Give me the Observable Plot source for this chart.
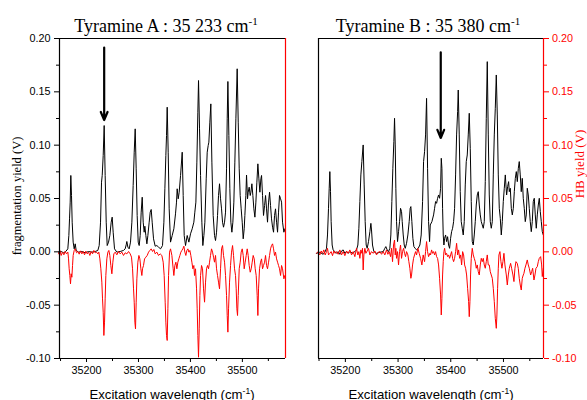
<!DOCTYPE html>
<html><head><meta charset="utf-8">
<script src="https://cdn.jsdelivr.net/npm/d3@7"></script>
<script src="https://cdn.jsdelivr.net/npm/@observablehq/plot@0.6"></script>
<style>
body{margin:0;background:#fff;}
#wrap{position:relative;width:587px;height:400px;overflow:hidden;background:#fff;}
#wrap svg.plot{position:absolute;top:0;}
#ov{position:absolute;left:0;top:0;pointer-events:none;}
</style></head><body><div id="wrap">
<svg id="ov" width="587" height="400">
<text x="166" y="31.7" text-anchor="middle" font-family="Liberation Serif, Times New Roman, serif" font-size="18">Tyramine A : 35 233 cm<tspan font-size="11" dy="-7">-1</tspan></text>
<text x="428" y="31.7" text-anchor="middle" font-family="Liberation Serif, Times New Roman, serif" font-size="18">Tyramine B : 35 380 cm<tspan font-size="11" dy="-7">-1</tspan></text>
<text x="172" y="398.5" text-anchor="middle" font-family="Liberation Sans, Arial, sans-serif" font-size="13.2">Excitation wavelength (cm<tspan font-size="8.5" dy="-5">-1</tspan><tspan dy="5">)</tspan></text>
<text x="431" y="398.5" text-anchor="middle" font-family="Liberation Sans, Arial, sans-serif" font-size="13.2">Excitation wavelength (cm<tspan font-size="8.5" dy="-5">-1</tspan><tspan dy="5">)</tspan></text>
<text transform="translate(20.5,196) rotate(-90)" text-anchor="middle" font-family="Liberation Serif, Times New Roman, serif" font-size="12.5">fragmentation yield (V)</text>
<text transform="translate(583.5,164) rotate(-90)" text-anchor="middle" font-family="Liberation Serif, Times New Roman, serif" font-size="13" fill="#f00">HB yield (V)</text>
</svg>
</div>
<script>
// ---- data (wavenumber cm-1, signal V) ----
const xMajor = [35200, 35300, 35400, 35500];
const xMinor = [35150, 35250, 35350, 35450, 35550];
const yMajor = [-0.10, -0.05, 0.00, 0.05, 0.10, 0.15, 0.20];
const yMinor = [-0.075, -0.025, 0.025, 0.075, 0.125, 0.175];
const xDomainA = [35148, 35583];
const xDomainB = [35149, 35576];
const yDomain = [-0.10, 0.20];
const arrowA = [[35234, 0.1915, 0.1235]];
const arrowB = [[35381, 0.1870, 0.1067]];

const aBlack = [[35146,-0.0003],[35151,0.0003],[35156,-0.0009],[35160,0.0003],[35164,0.0028],[35166,0.0153],[35167.3,0.0309],[35168.6,0.0466],[35169.8,0.0716],[35171.1,0.0528],[35172.4,0.0278],[35174.3,0.0091],[35176.3,0.0028],[35178.2,0.0075],[35180.1,0.0013],[35184.6,-0.0003],[35191,0.0003],[35197.4,-0.0009],[35203.9,0.0003],[35210.3,-0.0003],[35216.7,0.0003],[35221.8,0.0013],[35224.4,0.0059],[35227,0.0278],[35228.9,0.0653],[35230.2,0.0716],[35232.1,0.0903],[35234,0.1184],[35235.9,0.0716],[35237.9,0.0278],[35239.8,0.0059],[35242.4,0.0091],[35244.9,0.0153],[35247.5,0.0278],[35249.4,0.0325],[35251.3,0.0184],[35253.9,0.0028],[35258.4,-0.0003],[35264.8,0.0003],[35271.2,0.0013],[35274.4,0.0028],[35276.4,0.0066],[35277.6,0.0097],[35279.6,0.0044],[35282.1,0.0028],[35284.7,0.0091],[35287.3,0.0278],[35289.8,0.0622],[35291.8,0.0934],[35293.7,0.1153],[35295.6,0.0778],[35297.5,0.0341],[35299.5,0.0091],[35301.4,0.0059],[35303.3,0.0153],[35305.2,0.0372],[35307.2,0.0512],[35309.1,0.0278],[35311,0.0184],[35312.3,0.024],[35314.2,0.0153],[35316.2,0.0075],[35318.1,0.0153],[35320.6,0.0278],[35322.6,0.0372],[35324.5,0.0397],[35326.4,0.0278],[35329,0.0122],[35332.2,0.0053],[35335.4,0.0059],[35338.6,0.0044],[35342.5,0.0028],[35346.3,0.0059],[35348.9,0.0278],[35350.8,0.0591],[35352.7,0.0903],[35354,0.1091],[35355.3,0.1356],[35357.2,0.0934],[35359.1,0.0403],[35361.7,0.0091],[35364.9,0.0153],[35368.1,0.0216],[35371.3,0.0356],[35373.2,0.0466],[35374.5,0.0591],[35376.5,0.0497],[35378.4,0.0559],[35381,0.0716],[35384.2,0.0934],[35386.1,0.0528],[35388,0.0153],[35390.6,0.0059],[35393.8,0.0153],[35397,0.0091],[35400.2,0.0169],[35403.4,0.0216],[35406.6,0.0278],[35408.5,0.0372],[35410.5,0.0466],[35412.4,0.0841],[35414.3,0.1309],[35415.6,0.1606],[35417.5,0.1153],[35419.5,0.0716],[35422,0.0278],[35423.9,0.0059],[35425.9,0.0153],[35427.8,0.0278],[35430.4,0.0684],[35432.3,0.0934],[35434.2,0.0997],[35435.5,0.1028],[35437.4,0.1216],[35439.3,0.1387],[35441.3,0.0841],[35443.8,0.0341],[35446.4,0.0153],[35448.3,0.0106],[35450.3,0.0184],[35452.2,0.0341],[35454.1,0.0528],[35456,0.0638],[35458,0.0497],[35459.9,0.0403],[35461.8,0.0278],[35463.7,0.0231],[35465.7,0.0278],[35467.6,0.0372],[35469.5,0.0778],[35470.8,0.1247],[35472.1,0.1597],[35474,0.1091],[35475.9,0.0591],[35477.8,0.0278],[35479.8,0.0184],[35481.7,0.0278],[35483.6,0.0466],[35485.5,0.0841],[35487.5,0.1247],[35490,0.1716],[35492,0.1216],[35493.9,0.0778],[35495.8,0.0528],[35497.7,0.0403],[35499.7,0.0278],[35501.6,0.0122],[35503.5,0.0216],[35504.8,0.0341],[35506.7,0.0528],[35508,0.072],[35509.9,0.0497],[35511.2,0.0559],[35513.1,0.0606],[35515.1,0.0528],[35516.4,0.0559],[35518.3,0.0638],[35520.2,0.0528],[35522.1,0.0403],[35524.1,0.0325],[35526,0.0466],[35527.9,0.0653],[35529.8,0.0825],[35531.8,0.0684],[35533.7,0.0559],[35535.6,0.0684],[35536.9,0.0716],[35538.8,0.0528],[35540.7,0.0341],[35542.7,0.0434],[35544.6,0.0528],[35546.5,0.0403],[35548.4,0.0278],[35550.4,0.0466],[35552.3,0.0559],[35554.2,0.0434],[35556.1,0.0309],[35558.1,0.0231],[35560,0.0184],[35561.9,0.0341],[35563.8,0.0403],[35565.8,0.0278],[35567.7,0.0184],[35569.6,0.0372],[35571.5,0.0528],[35573.5,0.0497],[35575.4,0.0466],[35577.3,0.0278],[35579.9,0.0184],[35581.8,0.0216]];

const aRed = [[35146.1,-0.0019],[35148.7,0.0013],[35151.2,-0.0034],[35153.8,-0.0003],[35156.4,-0.0028],[35158.9,0.0003],[35161.5,-0.0019],[35164.1,-0.0003],[35165.4,-0.0066],[35166.6,-0.0159],[35167.9,-0.0222],[35169.2,-0.03],[35170.5,-0.0206],[35171.8,-0.0238],[35173.1,-0.0128],[35174.3,-0.0034],[35176.3,0.0013],[35178.2,0.0028],[35180.8,-0.0009],[35183.3,0.0003],[35185.9,-0.0022],[35188.5,0.0009],[35191,-0.0019],[35193.6,0.0003],[35196.2,-0.0028],[35198.7,0.0006],[35201.3,-0.0019],[35203.9,-0.0003],[35206.4,-0.0034],[35209,0.0003],[35211.6,-0.0019],[35214.1,0.0013],[35216.7,-0.0009],[35219.3,-0.0003],[35221.8,-0.0019],[35223.7,-0.0003],[35225.7,-0.0066],[35227.6,-0.0159],[35229.5,-0.0284],[35230.8,-0.0441],[35232.1,-0.0566],[35233.4,-0.0784],[35234.7,-0.0659],[35235.9,-0.0441],[35237.2,-0.0222],[35239.1,-0.0066],[35241.1,-0.0003],[35243,0.0013],[35244.9,-0.0034],[35246.8,-0.0128],[35248.8,-0.0206],[35250.7,-0.0097],[35252.6,-0.0019],[35255.2,-0.0003],[35258.4,-0.0028],[35261.6,0.0003],[35264.8,-0.0019],[35268,-0.0003],[35271.2,-0.0034],[35274.4,-0.0009],[35277.6,-0.0019],[35280.9,0.0003],[35284.1,-0.0019],[35286.6,-0.005],[35288.6,-0.0159],[35290.5,-0.0347],[35291.8,-0.0472],[35293.1,-0.0659],[35294.3,-0.0722],[35295.6,-0.0472],[35296.9,-0.0253],[35298.8,-0.0097],[35300.8,-0.0034],[35302.7,-0.0066],[35304.6,-0.0159],[35306.5,-0.0222],[35307.8,-0.0159],[35309.7,-0.0128],[35311.7,-0.0066],[35314.2,-0.005],[35316.8,-0.0034],[35319.4,-0.0003],[35321.9,0.0013],[35324.5,0.0028],[35327.1,0.0003],[35329.6,0.0022],[35332.2,-0.0019],[35335.4,-0.0003],[35338.6,-0.0034],[35341.8,-0.0019],[35345,-0.0034],[35347.6,-0.0097],[35349.5,-0.0222],[35351.4,-0.0472],[35352.7,-0.0659],[35354,-0.0784],[35355.3,-0.0831],[35356.6,-0.0534],[35357.9,-0.0222],[35359.8,-0.0003],[35361.7,0.0028],[35364.3,-0.0034],[35366.8,-0.0159],[35368.1,-0.0222],[35370,-0.0128],[35372,-0.0097],[35373.9,-0.0159],[35375.8,-0.0097],[35377.7,-0.0066],[35379.7,-0.0034],[35381.6,-0.0003],[35383.5,0.0013],[35385.4,0.0028],[35387.4,0.0053],[35389.3,-0.0003],[35391.2,-0.0034],[35393.1,0.0013],[35395.1,0.0028],[35397,-0.0003],[35398.9,0.0013],[35400.8,-0.0034],[35402.8,-0.0097],[35404.7,-0.0159],[35406.6,-0.0128],[35407.9,-0.0222],[35409.8,-0.0159],[35411.8,-0.0347],[35413,-0.0534],[35414.3,-0.0784],[35415.6,-0.0988],[35416.9,-0.0722],[35418.2,-0.0409],[35419.5,-0.0222],[35421.4,-0.0128],[35423.3,-0.0159],[35425.2,-0.0347],[35427.2,-0.0472],[35429.1,-0.0284],[35431,-0.0159],[35432.9,-0.0128],[35434.9,-0.0159],[35436.8,-0.0097],[35438.7,-0.0034],[35440.6,0.0028],[35442.6,-0.0003],[35444.5,-0.005],[35446.4,-0.0097],[35448.3,-0.0034],[35450.3,-0.0159],[35452.2,-0.0222],[35454.1,-0.0284],[35456,-0.0347],[35458,-0.0159],[35459.9,0.0028],[35461.8,0.0059],[35463.7,-0.0034],[35465.7,-0.0097],[35467.6,-0.0222],[35469.5,-0.0409],[35470.8,-0.0597],[35472.1,-0.0753],[35473.4,-0.0534],[35475.3,-0.0284],[35477.2,-0.0128],[35479.1,-0.0003],[35481.1,0.0059],[35483,-0.0034],[35484.9,-0.0159],[35486.8,-0.0222],[35488.1,-0.0347],[35489.4,-0.0534],[35490.7,-0.0597],[35492,-0.0409],[35493.9,-0.0159],[35495.8,-0.0097],[35497.7,-0.0003],[35499.7,0.0028],[35501.6,-0.0034],[35503.5,-0.0159],[35505.4,-0.0097],[35507.4,-0.0034],[35509.3,0.0028],[35511.2,-0.0034],[35513.1,-0.0128],[35515.1,-0.0191],[35517,-0.0159],[35518.9,-0.0097],[35520.8,-0.0034],[35522.8,-0.0066],[35524.7,-0.0159],[35526.6,-0.0222],[35528.5,-0.0409],[35529.8,-0.0597],[35531.1,-0.0347],[35533,-0.0159],[35535,-0.0097],[35536.9,-0.0066],[35538.8,-0.0159],[35540.7,-0.0128],[35542.7,-0.0097],[35544.6,-0.0034],[35546.5,-0.0128],[35548.4,-0.0159],[35550.4,-0.0097],[35552.3,-0.0034],[35554.2,0.0028],[35556.1,0.0059],[35558.1,0.0075],[35560,0.0028],[35561.9,-0.0034],[35563.8,-0.0003],[35565.8,-0.0066],[35567.7,-0.0097],[35569.6,-0.0128],[35571.5,-0.0159],[35573.5,-0.0222],[35575.4,-0.0128],[35577.3,-0.0159],[35579.9,-0.0253],[35581.8,-0.0222]];

const bBlack = [[35145.2,-0.0014],[35151.5,-0.0004],[35157.9,-0.0023],[35161.7,0.0002],[35164.2,0.0033],[35166.1,0.0158],[35168,0.0408],[35169.3,0.0596],[35170.5,0.0752],[35171.8,0.0564],[35173,0.0283],[35174.9,0.0064],[35176.8,0.0018],[35180,0.0002],[35183.2,-0.0014],[35186.3,0.0002],[35189.5,-0.0023],[35192.7,0.0008],[35195.8,0.0018],[35199,-0.0014],[35202.2,0.0002],[35205.3,-0.0014],[35208.5,0.0002],[35213.6,-0.0014],[35218,0.0002],[35221.1,0.0018],[35223.7,0.0064],[35225.6,0.0221],[35227.5,0.0471],[35229.4,0.0721],[35231.3,0.0846],[35233.8,0.1002],[35235.7,0.0627],[35237.6,0.0283],[35239.5,0.0064],[35241.4,0.0033],[35243.9,0.0096],[35246.5,0.0189],[35248.4,0.0267],[35249.6,0.0205],[35251.5,0.0064],[35254.1,0.0002],[35259.1,-0.0014],[35265.5,-0.0004],[35271.8,0.0002],[35274.9,0.0033],[35276.8,0.0049],[35279.4,0.0018],[35281.9,0.0002],[35284.4,0.0033],[35286.3,0.0158],[35288.2,0.0471],[35290.1,0.0783],[35292,0.1033],[35293.3,0.1252],[35294.6,0.1002],[35295.8,0.0596],[35297.1,0.0283],[35299,0.0096],[35300.9,0.0189],[35302.8,0.0283],[35304.7,0.0408],[35306.6,0.0377],[35307.9,0.0283],[35309.8,0.0158],[35311.7,0.0064],[35313.6,0.0033],[35316.1,0.008],[35318.6,0.0158],[35321.1,0.0283],[35323,0.0408],[35324.3,0.0424],[35326.2,0.0283],[35328.1,0.0127],[35330,0.0049],[35332.5,0.0033],[35335.1,0.0018],[35338.2,0.0033],[35341.4,0.0064],[35343.9,0.0158],[35346.5,0.0471],[35348.4,0.0846],[35350.3,0.0939],[35352.2,0.1096],[35354.1,0.1439],[35356,0.0783],[35357.9,0.0283],[35359.8,0.0096],[35361.1,0.0252],[35364.2,0.0283],[35367.4,0.0346],[35369.3,0.0408],[35371.2,0.0471],[35373.1,0.0455],[35375,0.0502],[35376.9,0.0533],[35378.8,0.0502],[35380.7,0.0596],[35382,0.0877],[35383.2,0.0783],[35384.5,0.0408],[35385.7,0.0158],[35387,0.0064],[35388.3,0.0127],[35390.2,0.0158],[35392.1,0.0096],[35394,0.0142],[35395.9,0.0064],[35397.8,0.0033],[35399.7,0.0127],[35401.6,0.0189],[35403.5,0.0221],[35405.4,0.0283],[35407.3,0.0408],[35409.2,0.0721],[35411.1,0.1096],[35413,0.1314],[35414.2,0.1517],[35416.1,0.1096],[35418,0.0564],[35419.9,0.0283],[35421.8,0.0221],[35423.7,0.0158],[35425.6,0.0283],[35427.5,0.0627],[35429.4,0.0846],[35431.3,0.0908],[35433.2,0.1096],[35435.1,0.1299],[35437,0.0971],[35438.9,0.0471],[35440.8,0.0096],[35442.7,0.0064],[35444.6,0.0158],[35446.5,0.0283],[35448.4,0.0439],[35450.3,0.0533],[35452.2,0.0564],[35454.1,0.0439],[35456,0.0346],[35457.9,0.0283],[35459.8,0.0252],[35461.7,0.0221],[35463.6,0.0283],[35465.5,0.0658],[35467.4,0.1252],[35469.3,0.1783],[35471.2,0.1096],[35473.1,0.0533],[35475,0.0283],[35476.9,0.0221],[35478.8,0.0283],[35480.7,0.0721],[35482.6,0.1096],[35484.5,0.1346],[35486.4,0.1658],[35488.3,0.1283],[35490.2,0.0721],[35492.1,0.0408],[35494,0.0314],[35495.9,0.0158],[35497.8,0.0283],[35499.7,0.0471],[35501.6,0.0596],[35503.5,0.0721],[35504.7,0.0627],[35506,0.0533],[35507.9,0.0611],[35509.8,0.0658],[35511.1,0.0564],[35513,0.0596],[35514.9,0.0408],[35516.8,0.0346],[35518.7,0.0408],[35520.6,0.0564],[35522.5,0.0689],[35524.4,0.0752],[35526.3,0.0658],[35528.2,0.0783],[35530,0.0846],[35531.9,0.0721],[35533.8,0.0564],[35535.7,0.0689],[35537.6,0.0502],[35539.5,0.0408],[35541.4,0.0283],[35543.3,0.0346],[35545.2,0.0596],[35547.1,0.0533],[35549,0.0408],[35550.9,0.0283],[35552.8,0.0189],[35554.7,0.0283],[35556.6,0.0471],[35558.5,0.0502],[35560.4,0.0346],[35562.3,0.0221],[35564.2,0.0346],[35566.1,0.0439],[35568,0.0502],[35569.9,0.0377],[35571.8,0.0283],[35573.7,0.0189],[35575.6,0.0158]];

const bRed = [[35145.2,-0.0014],[35148.4,0.0002],[35151.5,-0.0029],[35154.1,0.0008],[35156.6,-0.0014],[35159.1,0.0018],[35161.7,-0.0029],[35164.2,0.0002],[35166.1,0.0033],[35168,-0.0029],[35170.5,-0.0014],[35173,0.0002],[35175.6,-0.0036],[35178.1,0.0008],[35180.6,-0.0014],[35183.2,0.0002],[35186.3,-0.0023],[35189.5,0.0018],[35192.7,-0.0029],[35195.8,0.0002],[35199,-0.0036],[35202.2,0.0008],[35205.3,-0.0014],[35208.5,0.0018],[35211.7,-0.0029],[35214.8,0.0002],[35218,-0.0045],[35221.1,0.0033],[35223.7,-0.0029],[35225.6,0.0002],[35227.5,-0.0061],[35229.4,0.0018],[35231.3,-0.0014],[35232.5,0.0033],[35233.8,-0.017],[35235.1,-0.0029],[35237,0.0033],[35238.9,-0.0014],[35241.4,0.0008],[35243.9,0.0033],[35246.5,-0.0029],[35249.6,0.0002],[35252.8,-0.0014],[35256,0.0008],[35259.1,-0.0029],[35262.3,-0.0004],[35265.5,0.0002],[35268.6,-0.0023],[35271.8,0.0002],[35274.9,-0.0029],[35278.1,0.0018],[35280.6,-0.0023],[35283.2,0.0002],[35285.7,-0.0045],[35287.6,0.0033],[35289.5,-0.0092],[35291.4,0.0064],[35293.3,0.0111],[35294.6,-0.0029],[35295.8,0.0033],[35297.1,-0.0061],[35299,0.0002],[35300.9,-0.0123],[35302.8,0.0002],[35304.7,0.0064],[35306.6,-0.0061],[35308.5,0.0002],[35310.4,0.0033],[35312.3,-0.0014],[35314.2,-0.0045],[35316.1,0.0002],[35318.6,-0.0029],[35320.5,-0.0092],[35322.4,-0.0154],[35324.3,-0.0248],[35325.6,-0.0217],[35327.5,-0.0123],[35329.4,-0.0061],[35331.3,-0.0029],[35333.2,0.0002],[35335.1,-0.0029],[35337.6,0.0033],[35340.1,-0.0014],[35342.7,-0.0061],[35345.2,-0.0123],[35347.7,-0.0029],[35350.3,-0.0092],[35352.2,0.0002],[35354.1,0.0096],[35356,0.0002],[35357.9,-0.0045],[35360.4,-0.0014],[35361.7,-0.0029],[35363.6,0.0018],[35365.5,-0.0014],[35367.4,0.0002],[35369.3,-0.0029],[35371.2,0.0002],[35373.1,-0.0045],[35375,-0.0061],[35376.9,-0.0123],[35378.8,-0.0248],[35380.7,-0.0404],[35382,-0.0592],[35383.2,-0.0436],[35384.5,-0.0217],[35385.7,-0.0092],[35387,0.0002],[35388.3,0.0033],[35390.2,-0.0029],[35392.1,-0.0014],[35394,-0.0045],[35395.9,-0.0029],[35397.8,-0.0061],[35399.7,-0.0029],[35401.6,0.0002],[35403.5,-0.0061],[35405.4,-0.0092],[35407.3,-0.0061],[35409.2,0.0002],[35411.1,0.008],[35413,-0.0029],[35414.9,0.0018],[35416.8,-0.0061],[35418.7,-0.0029],[35420.6,-0.0123],[35422.5,0.0002],[35424.4,-0.0029],[35426.3,-0.0123],[35428.2,-0.0154],[35430.1,-0.0217],[35432,-0.0342],[35433.9,-0.0467],[35435.1,-0.0608],[35436.4,-0.0467],[35437.6,-0.0217],[35438.9,-0.0061],[35440.8,0.0033],[35442.7,-0.0029],[35444.6,-0.0061],[35446.5,-0.0092],[35448.4,-0.0154],[35450.3,-0.0123],[35452.2,-0.0186],[35454.1,-0.0217],[35456,-0.0123],[35457.9,-0.0061],[35459.8,-0.0092],[35461.7,-0.0061],[35463.6,-0.0123],[35465.5,-0.0154],[35467.4,-0.0092],[35469.3,-0.0029],[35471.2,-0.0123],[35473.1,-0.0123],[35475,-0.0186],[35476.9,-0.0217],[35478.8,-0.0248],[35480.7,-0.0342],[35482.6,-0.0467],[35484.5,-0.0623],[35486.4,-0.0717],[35487.6,-0.0592],[35488.9,-0.0342],[35490.2,-0.0154],[35491.4,-0.0029],[35493.3,0.0002],[35495.2,-0.0092],[35497.1,-0.0154],[35499,-0.0092],[35500.9,-0.0014],[35502.8,-0.0123],[35505.4,-0.0217],[35507.3,-0.0311],[35509.2,-0.0217],[35511.1,-0.0154],[35513.6,-0.0108],[35515.5,-0.0154],[35518,-0.0217],[35519.9,-0.0279],[35521.8,-0.0154],[35523.7,-0.0092],[35526.2,-0.0108],[35528.1,-0.0154],[35530,-0.0248],[35531.9,-0.0311],[35533.8,-0.0358],[35535.7,-0.0248],[35537.6,-0.0217],[35538.9,-0.0201],[35540.8,-0.0154],[35542.7,-0.0123],[35545.2,-0.0076],[35547.1,-0.0123],[35549,-0.0154],[35551.6,-0.0217],[35553.5,-0.0186],[35555.4,-0.0154],[35557.9,-0.0264],[35559.8,-0.0217],[35561.7,-0.0154],[35564.2,-0.0139],[35566.1,-0.0092],[35568,-0.0061],[35570.6,-0.0045],[35572.5,-0.0123],[35573.7,-0.0232],[35575.6,-0.0154]];

// ---- styles ----
const RED = "#f00";
const fmtY = d => d.toFixed(2);
const fmtX = d => String(d);
const baseStyle = {fontFamily: "Liberation Sans, Arial, sans-serif", fontSize: "10.8px", background: "transparent", overflow: "visible", color: "black"};

function panel(black, red, xDomain, arrows, opts) {
  const marks = [
    Plot.line(black, {x: d => d[0], y: d => d[1], stroke: "black", strokeWidth: 1}),
    Plot.line(red, {x: d => d[0], y: d => d[1], stroke: RED, strokeWidth: 1}),
    Plot.ruleY([yDomain[1]], {stroke: "black", strokeWidth: 1.2}),
    Plot.ruleY([yDomain[0]], {stroke: "black", strokeWidth: 1.2}),
    Plot.ruleX([xDomain[0]], {stroke: "black", strokeWidth: 1.2}),
    Plot.ruleX([xDomain[1]], {stroke: RED, strokeWidth: 1.2}),
    Plot.axisX(xMajor, {tickSize: 4, tickPadding: 4, tickFormat: fmtX}),
    Plot.axisX(xMinor, {tickSize: 3, tickFormat: () => ""}),
    Plot.arrow(arrows, {x1: d => d[0], y1: d => d[1], x2: d => d[0], y2: d => d[2], stroke: "black", strokeWidth: 2.2, headLength: 6, headAngle: 45})
  ];
  if (opts.side === "left") {
    marks.push(Plot.axisY(yMajor, {anchor: "left", tickSize: 5, tickPadding: 4, tickFormat: fmtY}));
    marks.push(Plot.axisY(yMinor, {anchor: "left", tickSize: 3, tickFormat: () => ""}));
  } else {
    marks.push(Plot.axisY(yMajor, {anchor: "right", tickSize: 5, tickPadding: 3.5, tickFormat: fmtY, color: RED}));
    marks.push(Plot.axisY(yMinor, {anchor: "right", tickSize: 3, tickFormat: () => "", color: RED}));
  }
  return Plot.plot({
    width: opts.width, height: 400,
    marginLeft: opts.ml, marginRight: opts.mr, marginTop: 38, marginBottom: 42,
    x: {domain: xDomain, axis: null},
    y: {domain: yDomain, axis: null},
    style: baseStyle,
    marks
  });
}

const wrap = document.getElementById("wrap");
const ov = document.getElementById("ov");
const pA = panel(aBlack, aRed, xDomainA, arrowA, {side: "left", width: 290, ml: 59, mr: 5});
pA.classList.add("plot"); pA.style.left = "0px";
const pB = panel(bBlack, bRed, xDomainB, arrowB, {side: "right", width: 297, ml: 28, mr: 44});
pB.classList.add("plot"); pB.style.left = "290px";
wrap.insertBefore(pA, ov);
wrap.insertBefore(pB, ov);
</script>
</body></html>
